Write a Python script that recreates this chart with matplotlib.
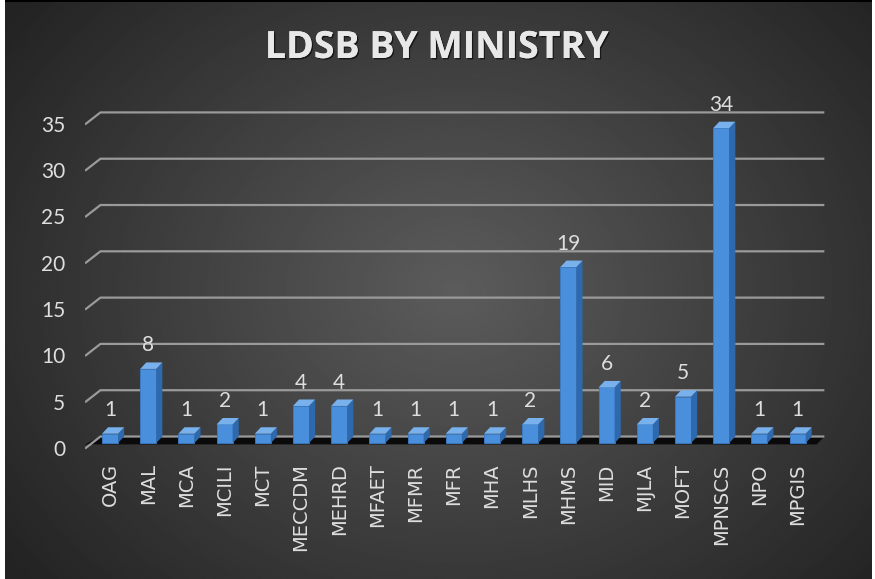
import numpy as np
import matplotlib.pyplot as plt
from matplotlib.patches import Polygon, Rectangle
import matplotlib.patheffects as pe

categories = ["OAG", "MAL", "MCA", "MCILI", "MCT", "MECCDM", "MEHRD", "MFAET",
              "MFMR", "MFR", "MHA", "MLHS", "MHMS", "MID", "MJLA", "MOFT",
              "MPNSCS", "NPO", "MPGIS"]
values = [1, 8, 1, 2, 1, 4, 4, 1, 1, 1, 1, 2, 19, 6, 2, 5, 34, 1, 1]
yticks = [0, 5, 10, 15, 20, 25, 30, 35]

W, H = 875, 579
fig = plt.figure(figsize=(W / 100, H / 100), dpi=100)
fig.patch.set_facecolor("white")

# radial gradient background
bg = fig.add_axes([5 / W, 0, 867 / W, 1])
bg.set_axis_off()
yy, xx = np.mgrid[0:1:300j, 0:1:450j]
r = np.sqrt(((xx - 0.52) / 0.7) ** 2 + ((yy - 0.5) / 0.85) ** 2)
shade = np.clip(0.36 - 0.24 * r, 0.14, 0.36)
bg.imshow(shade, cmap="gray", vmin=0, vmax=1, aspect="auto",
          extent=[0, 1, 0, 1], interpolation="bilinear")
bg.add_patch(Rectangle((0, 0.997), 1, 0.003, color="black", lw=0))
bg.set_xlim(0, 1)
bg.set_ylim(0, 1)

# main axes: category i centre at pixel 110 + 38.2*i, value 0 front at pixel 443
x0, x1 = 85, 830
ytop, ybot = 100, 450
ax = fig.add_axes([x0 / W, (H - ybot) / H, (x1 - x0) / W, (ybot - ytop) / H])
ax.set_xlim((x0 - 110) / 38.2, (x1 - 110) / 38.2)
ax.set_ylim((443 - ybot) / 9.26, (443 - ytop) / 9.26)
ax.set_axis_off()
ax.patch.set_alpha(0)

dx, dy = 0.16, 0.7       # depth offset
gl, gr = -0.25, 18.7     # back-plane gridline extent
fl = (x0 - 110) / 38.2
grid_col = "#9a9a9a"
text_col = "#dedede"

# floor
ax.add_patch(Polygon([(fl, -0.15), (18.5, -0.15), (gr, dy), (gl, dy)],
                     closed=True, color="#0a0a0a", lw=0, zorder=1))

for v in yticks:
    ax.plot([fl, gl, gr], [v - 0.6, v + dy, v + dy], color=grid_col,
            lw=1.6, zorder=0.5 if v else 1.2, solid_capstyle="butt")
    ax.text(fl - 0.52, v - 0.75, str(v), ha="right", va="center",
            fontsize=15, color=text_col, family="Lato")

xs = np.arange(len(categories))
bw = 0.42
ax.bar(xs, values, width=bw, color="#4a8fdc", edgecolor="#3a7cc8",
       lw=0.6, zorder=3)
for x, v in zip(xs, values):
    right = x + bw / 2
    left = x - bw / 2
    ax.add_patch(Polygon([(right, 0), (right + dx, dy), (right + dx, v + dy),
                          (right, v)], closed=True, color="#2f69ad",
                         lw=0, zorder=3))
    ax.add_patch(Polygon([(left, v), (right, v), (right + dx, v + dy),
                          (left + dx, v + dy)], closed=True, color="#79b1ec",
                         lw=0, zorder=3))
    ax.annotate(str(v), (x, v + dy), xytext=(0, 5), textcoords="offset points",
                ha="center", va="bottom", fontsize=15, color=text_col,
                family="Lato")
    ax.text(x, -2.2, categories[x], rotation=90, ha="center", va="top",
            fontsize=14, color=text_col, family="DejaVu Sans",
            clip_on=False)

fig.text(437 / W, 1 - 48 / H, "LDSB BY MINISTRY", ha="center", va="center",
         fontsize=27, fontweight="bold", color="#e8e8e8", family="Open Sans",
         path_effects=[pe.withSimplePatchShadow(offset=(1, -1), alpha=0.6,
                                                shadow_rgbFace="black"),
                       pe.Normal()])

fig.savefig("out.png", dpi=100, facecolor=fig.get_facecolor())
